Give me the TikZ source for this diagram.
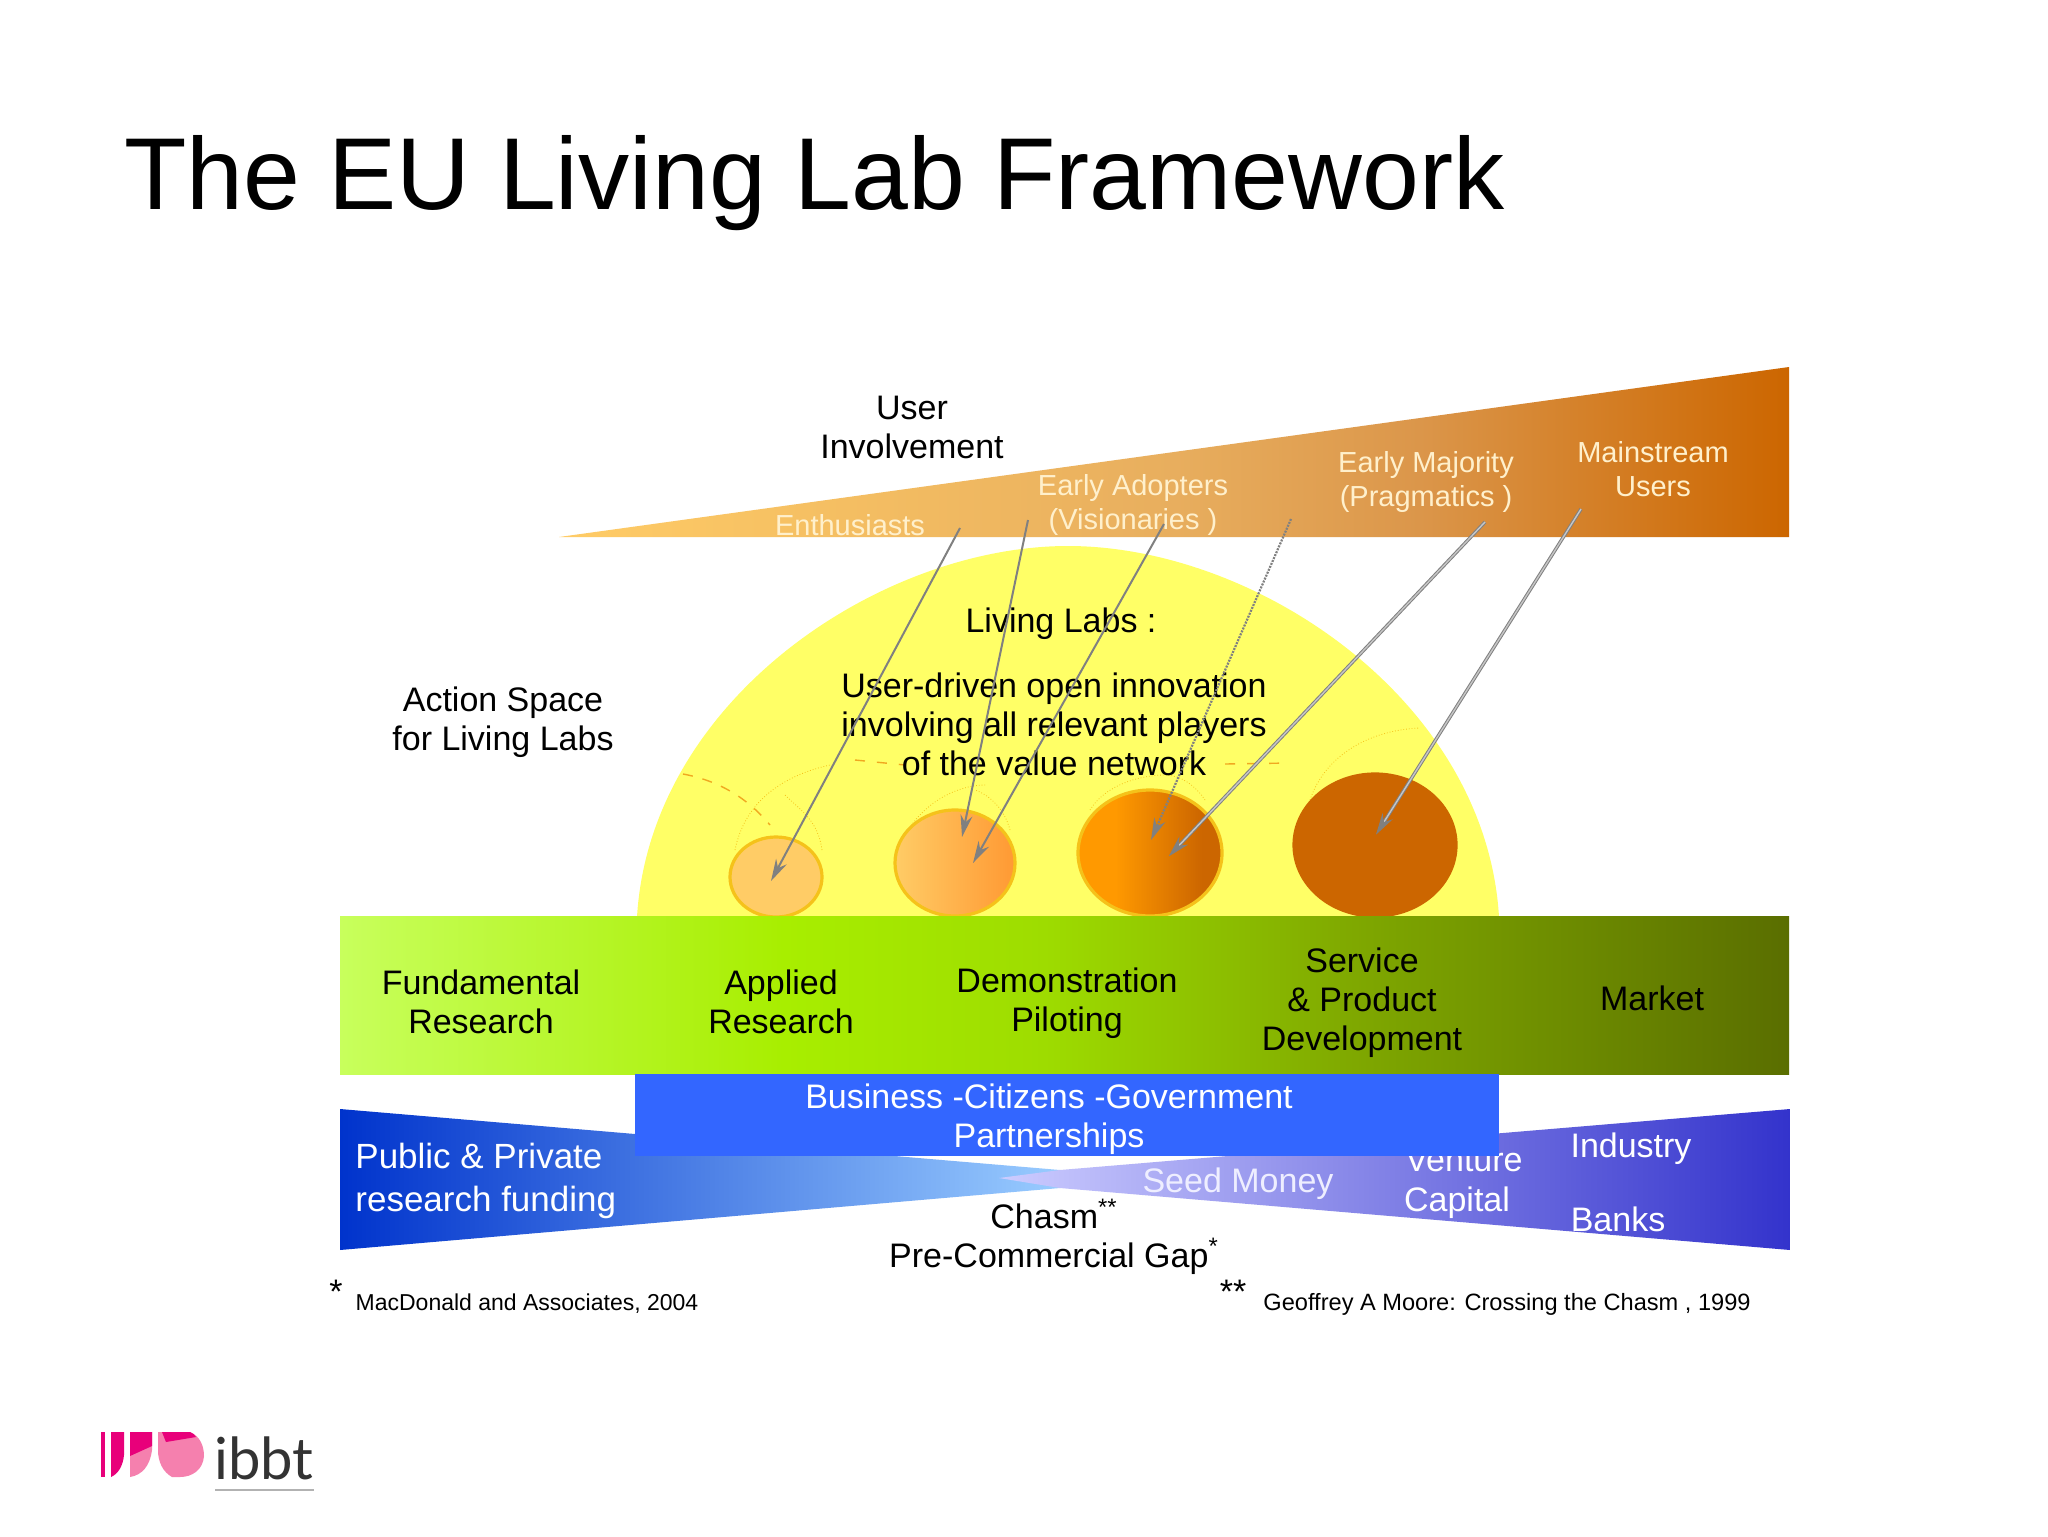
\documentclass[tikz,border=0pt]{standalone}
\usepackage{fontspec}
\setmainfont{Liberation Sans}
\newfontfamily\logofont{Lato}
\usetikzlibrary{arrows.meta,shapes.geometric}
\definecolor{wedgeL}{HTML}{FFCC66}
\definecolor{wedgeM}{HTML}{E8AE5E}
\definecolor{wedgeN}{HTML}{DB964A}
\definecolor{wedgeR}{HTML}{CC6600}
\definecolor{domeY}{HTML}{FFFF66}
\definecolor{partnerB}{HTML}{3366FF}
\definecolor{arrowG}{HTML}{808080}
\definecolor{wedgeTxt}{HTML}{FFF0CC}
\definecolor{dotO}{HTML}{F5C21A}
\definecolor{dashO}{HTML}{F0A820}
\definecolor{gA}{HTML}{C8FF5C}
\definecolor{gB}{HTML}{A8EE00}
\definecolor{gC}{HTML}{9EDC00}
\definecolor{gD}{HTML}{7FA800}
\definecolor{gE}{HTML}{5A6E00}
\definecolor{blueA}{HTML}{0033CC}
\definecolor{blueB}{HTML}{99CCFF}
\definecolor{violA}{HTML}{CCCCFF}
\definecolor{violB}{HTML}{3333CC}
\definecolor{seedT}{HTML}{EEEEFF}
\definecolor{lensA}{HTML}{FF9933}
\definecolor{lensB}{HTML}{FF9900}
\definecolor{logoD}{HTML}{E8007A}
\definecolor{logoL}{HTML}{F580AE}
\definecolor{logoT}{HTML}{333333}
\pgfdeclarehorizontalshading{greenband}{100bp}{
  color(0bp)=(gA); color(25bp)=(gA);
  color(40.3bp)=(gB); color(49.3bp)=(gC);
  color(60bp)=(gD); color(75bp)=(gE);
  color(100bp)=(gE)}
\pgfdeclarehorizontalshading{lensthree}{100bp}{
  color(0bp)=(lensB); color(38bp)=(lensB);
  color(68bp)=(wedgeR); color(100bp)=(wedgeR)}
\pgfdeclarehorizontalshading{userwedge}{100bp}{
  color(0bp)=(wedgeL); color(25bp)=(wedgeL);
  color(50bp)=(wedgeM); color(60bp)=(wedgeN);
  color(75bp)=(wedgeR); color(100bp)=(wedgeR)}
\tikzset{
  lab/.style={font=\fontsize{17}{19.5}\selectfont,align=center,inner sep=0pt,text=black},
  wlab/.style={font=\fontsize{14.5}{17}\selectfont,align=center,inner sep=0pt,text=wedgeTxt},
  wht/.style={lab,text=white},
  note/.style={font=\fontsize{11.5}{14}\selectfont,inner sep=0pt,text=black},
  lens/.style={ellipse,inner sep=0pt,line width=1.6pt,draw=dotO},
  orbit/.style={draw=dotO,line width=0.4pt,densely dotted},
  flow/.style={draw=arrowG,line width=1pt,-{Stealth[length=11pt,width=6pt,fill=arrowG]}},
  flowd/.style={flow,line width=1.1pt,dash pattern=on 1pt off 0.6pt},
  flowb/.style={draw=arrowG,line width=0.5pt,double=arrowG!45,double distance=0.7pt,-{Stealth[length=11pt,width=6pt,fill=arrowG,sep=-1pt]}}
}
\begin{document}
\begin{tikzpicture}[x=0.5pt,y=-0.5pt]
\useasboundingbox[fill=white] (0,0) rectangle (2048,1536);

% title
\node[anchor=west,inner sep=0pt,font=\fontsize{51.1}{60}\selectfont] (title) at (124,183) {The EU Living Lab Framework};

% user wedge
\shade[shading=userwedge] (559,537) -- (1789,367) -- (1789,537) -- cycle;
% dome
\fill[domeY] (637,917) .. controls (650,700) and (880,546) .. (1068,546) .. controls (1256,546) and (1486,700) .. (1499,917) -- cycle;

% dotted and dashed guides
\draw[dashO,line width=0.7pt,dash pattern=on 5pt off 5pt] (683,774) .. controls (715,780) and (745,795) .. (770,825);
\draw[dashO,line width=0.7pt,dash pattern=on 5pt off 6pt] (855,760) -- (905,765) (1225,764) -- (1290,763);
\draw[orbit] (735,850) .. controls (745,800) and (785,775) .. (830,765);
\draw[orbit] (822,850) .. controls (818,820) and (800,810) .. (785,795);
\draw[orbit] (905,835) .. controls (925,800) and (960,785) .. (985,785);
\draw[orbit] (1010,830) .. controls (1005,810) and (990,795) .. (975,790);
\draw[orbit] (1090,810) .. controls (1105,785) and (1140,775) .. (1165,775);
\draw[orbit] (1205,800) .. controls (1195,785) and (1180,775) .. (1165,775);
\draw[orbit] (1310,800) .. controls (1325,755) and (1370,730) .. (1420,728);

% lenses
\node[lens,minimum width=46pt,minimum height=40pt,fill=wedgeL] (c1) at (776,877) {};
\node[lens,minimum width=60pt,minimum height=53pt,left color=wedgeL,right color=lensA] (c2) at (955,863) {};
\node[lens,minimum width=72pt,minimum height=63pt,shading=lensthree] (c3) at (1150,853) {};
\node[lens,minimum width=81pt,minimum height=71pt,fill=wedgeR,draw=wedgeR] (c4) at (1375,845) {};

% green band
\shade[shading=greenband] (340,916) rectangle (1789,1074);

% funding wedges
\shade[left color=blueA,right color=blueB] (340,1109) -- (1060,1170) -- (1060,1188) -- (340,1250) -- cycle;
\shade[left color=violA,right color=violB] (999,1178) -- (1060,1170) -- (1790,1109) -- (1790,1250) -- (1060,1188) -- cycle;

\node[wht] (venture) at (1464,1160) {Venture};
% partnership box
\fill[partnerB] (635,1074) rectangle (1499,1156);

% labels
\node[lab] (user) at (912,427) {User\\Involvement};
\node[wlab] (enth) at (850,525) {Enthusiasts};
\node[wlab] (adopt) at (1133,505) {Early Adopters\\(Visionaries )};
\node[wlab] (major) at (1426,482) {Early Majority\\(Pragmatics )};
\node[wlab] (main) at (1653,469) {Mainstream\\Users};
\node[lab] (ll) at (1061,624) {Living Labs :};
\node[lab] (ll2) at (1054,724) {User-driven open innovation\\involving all relevant players\\of the value network};
\node[lab] (space) at (503,722) {Action Space\\for Living Labs};
\node[lab] (fund) at (481,1002) {Fundamental\\Research};
\node[lab] (appl) at (781,1002) {Applied\\Research};
\node[lab] (demo) at (1067,1003) {Demonstration\\Piloting};
\node[lab] (serv) at (1362,1003) {Service\\\& Product\\Development};
\node[lab] (mark) at (1652,998) {Market};
\node[wht] (biz) at (1049,1119) {Business -Citizens -Government\\Partnerships};
\node[wht,anchor=west,align=left,font=\fontsize{17.5}{21.5}\selectfont] (pub) at (355,1181) {Public \& Private\\research funding};
\node[lab,text=seedT] (seed) at (1238,1184) {Seed Money};
\node[wht] (cap) at (1457,1203) {Capital};
\node[wht] (ind) at (1631,1149) {Industry};
\node[wht] (bank) at (1618,1219) {Banks};
\node[lab] (chasm) at (1054,1237) {Chasm\textsuperscript{**}\\Pre-Commercial Gap\textsuperscript{*}};
\node[note,font=\fontsize{17}{19}\selectfont] (st1) at (336,1292) {*};
\node[note] (fn1) at (527,1304) {MacDonald and Associates, 2004};
\node[note,font=\fontsize{17}{19}\selectfont] (st2) at (1233,1292) {**};
\node[note,font=\fontsize{11.8}{14}\selectfont] (fn2) at (1507,1304) {Geoffrey A Moore: Crossing the Chasm , 1999};

% flow arrows
\coordinate (e1) at (960,528); \coordinate (t1) at (771,881);
\coordinate (a2) at (1028,520); \coordinate (t2) at (962,837);
\coordinate (a3) at (1164,524); \coordinate (t3) at (973,863);
\coordinate (a4) at (1291,519); \coordinate (t4) at (1151,840);
\coordinate (a5) at (1485,522); \coordinate (t5) at (1170,855);
\coordinate (a6) at (1581,509); \coordinate (t6) at (1377,833);
\draw[flow] (e1) -- (t1);
\draw[flow] (a2) -- (t2);
\draw[flow] (a3) -- (t3);
\draw[flowd] (a4) -- (t4);
\draw[flowb] (a5) -- (t5);
\draw[flowb] (a6) -- (t6);

% logo
\fill[logoD] (101,1432) rectangle (105,1477);
\fill[logoD] (111,1432) -- (124,1432) -- (124,1455) .. controls (123,1466) and (118,1474) .. (111,1477) -- cycle;
\fill[logoL] (130,1432) -- (152,1432) -- (152,1450) .. controls (150,1466) and (142,1475) .. (130,1477) -- cycle;
\fill[logoD] (130,1432) -- (152,1432) -- (152,1446) -- (130,1456) -- cycle;
\fill[logoL] (158,1432) -- (190,1432) .. controls (200,1436) and (204,1446) .. (204,1456) .. controls (203,1470) and (192,1477) .. (180,1477) -- (172,1477) .. controls (163,1472) and (158,1462) .. (158,1450) -- cycle;
\fill[logoD] (162,1432) -- (190,1432) .. controls (193,1433) and (195,1435) .. (196,1437) -- (166,1442) -- cycle;
\node[anchor=west,inner sep=0pt,text=logoT,font=\logofont\fontsize{29}{30}\selectfont] (ibbt) at (214,1458) {ibbt};
\draw[gray!60,line width=1pt] (215,1490) -- (314,1490);
\end{tikzpicture}
\end{document}
